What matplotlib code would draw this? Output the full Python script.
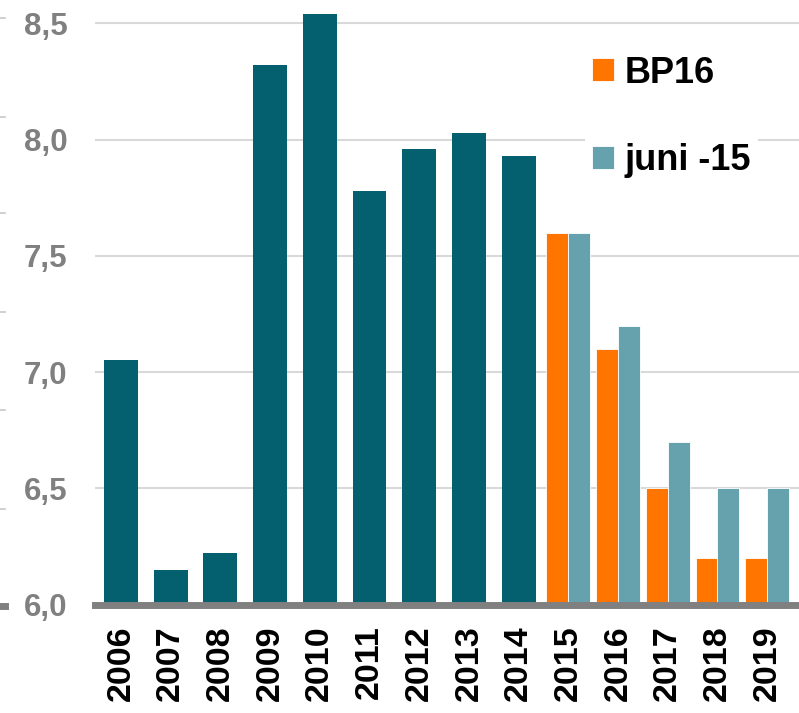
import numpy as np
import matplotlib.pyplot as plt
from matplotlib.lines import Line2D

plt.rcParams['font.family'] = ['Liberation Sans', 'DejaVu Sans']

years = ['2006', '2007', '2008', '2009', '2010', '2011', '2012',
         '2013', '2014', '2015', '2016', '2017', '2018', '2019']
actual = [7.05, 6.15, 6.22, 8.32, 8.54, 7.78, 7.96, 8.03, 7.93]
bp16 = [7.6, 7.1, 6.5, 6.2, 6.2]
juni15 = [7.6, 7.2, 6.7, 6.5, 6.5]

dark_teal = '#04606f'
orange = '#ff7500'
light_teal = '#66a2ad'

fig = plt.figure(figsize=(7.99, 7.13), dpi=100)
ax = fig.add_axes([0.119, 0.152, 0.881, 0.848])

x_hist = np.arange(len(actual))
x_fc = np.arange(len(actual), len(years))
ax.bar(x_hist, np.array(actual) - 6.0, bottom=6.0, width=0.68,
       color=dark_teal, zorder=3)
ax.bar(x_fc - 0.22, np.array(bp16) - 6.0, bottom=6.0, width=0.44,
       color=orange, edgecolor='white', linewidth=0.6, zorder=3, label='BP16')
ax.bar(x_fc + 0.22, np.array(juni15) - 6.0, bottom=6.0, width=0.44,
       color=light_teal, edgecolor='white', linewidth=0.6, zorder=3, label='juni -15')

ax.set_xlim(-0.52, 13.64)
ax.set_ylim(6.0, 8.6)
ax.set_yticks([6.0, 6.5, 7.0, 7.5, 8.0, 8.5])
ax.set_yticklabels(['6,0', '6,5', '7,0', '7,5', '8,0', '8,5'])
ax.set_xticks(np.arange(len(years)))
ax.set_xticklabels(years, rotation=90)

ax.tick_params(axis='y', length=0, pad=20, labelsize=22.5, labelcolor='#808080')
ax.tick_params(axis='x', length=0, pad=15, labelsize=24.5, labelcolor='black')
for lab in ax.get_yticklabels() + ax.get_xticklabels():
    lab.set_fontweight('bold')

ax.grid(axis='y', color='#d9d9d9', linewidth=1.5, zorder=0)
ax.set_axisbelow(True)
for side in ['top', 'right', 'left']:
    ax.spines[side].set_visible(False)
ax.spines['bottom'].set_color('#808080')
ax.spines['bottom'].set_linewidth(5)
ax.spines['bottom'].set_zorder(4)

leg = ax.legend(loc='upper left', bbox_to_anchor=(0.67, 0.95), frameon=True,
                facecolor='white', edgecolor='none', framealpha=1,
                handlelength=0.6, handleheight=0.6, handletextpad=0.3,
                labelspacing=1.45, borderpad=0.2,
                prop={'weight': 'bold', 'size': 26})
leg.set_zorder(5)

# small leftover tick marks at the left edge
for ypx in [18, 117, 213, 312, 410, 509]:
    yf = 1 - ypx / 713
    fig.add_artist(Line2D([0, 0.006], [yf, yf], color='#c8c8c8', linewidth=1.2))
fig.add_artist(Line2D([0, 0.006], [1 - 606 / 713] * 2, color='#808080', linewidth=5))

fig.savefig('out.png', dpi=100)
